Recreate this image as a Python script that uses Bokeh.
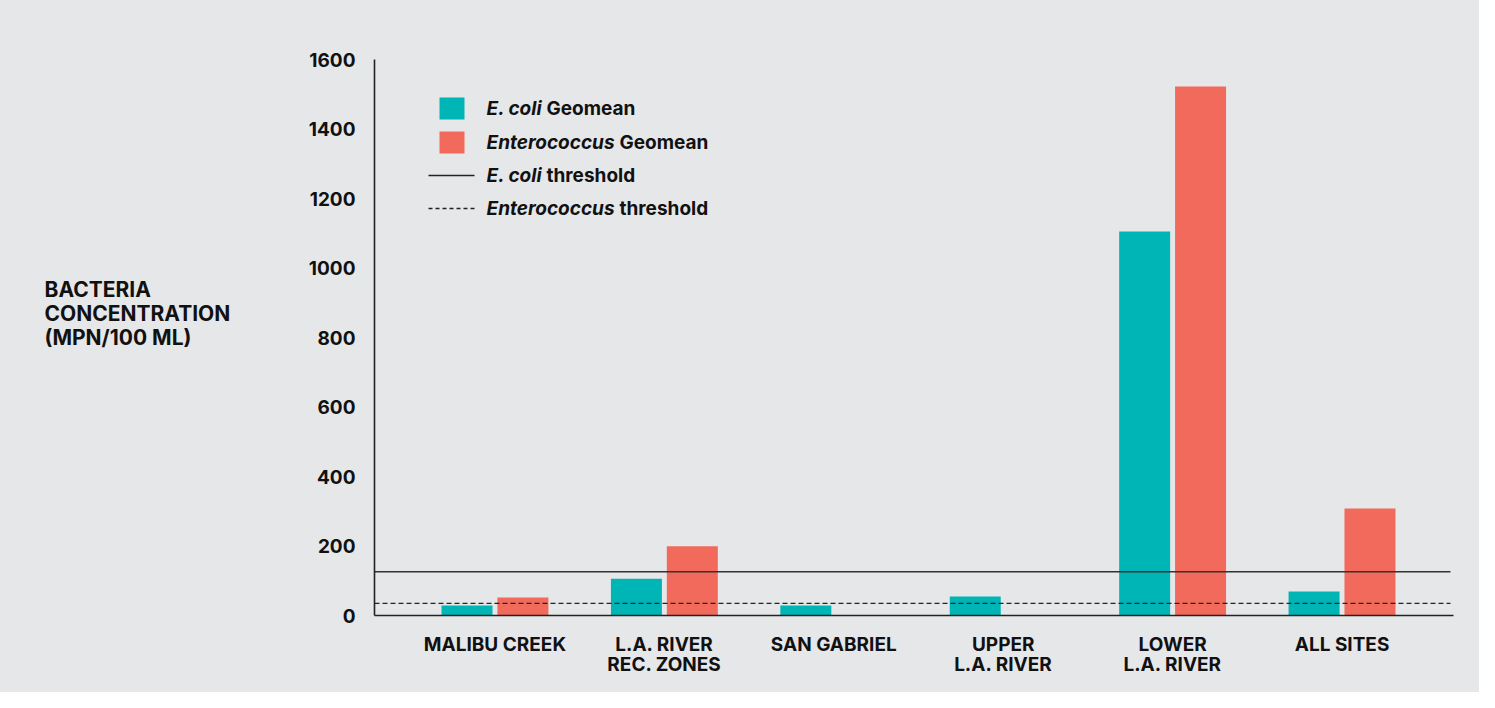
from bokeh.plotting import figure
from bokeh.models import Range1d, FixedTicker, Label, ColumnDataSource
from bokeh.layouts import row
from bokeh.transform import dodge
from bokeh.embed import file_html
from bokeh.resources import INLINE

# ---- data ----
categories = ["MALIBU CREEK", "L.A. RIVER\nREC. ZONES", "SAN GABRIEL",
              "UPPER\nL.A. RIVER", "LOWER\nL.A. RIVER", "ALL SITES"]
ecoli_geomean = [29, 106, 29, 55, 1105, 69]
entero_geomean = [52, 199, float("nan"), float("nan"), 1522, 308]
ecoli_threshold = 126
entero_threshold = 35
y_ticks = [0, 200, 400, 600, 800, 1000, 1200, 1400, 1600]
y_title = "BACTERIA\nCONCENTRATION\n(MPN/100 ML)"

BG = "#e6e7e9"
TEAL = "#00b5b5"
CORAL = "#f26a5b"
INK = "#111111"
FONT = "Inter"
FS = "19px"

W, H = 1479, 692
LW = 250                      # width of the title strip on the left
ML, MR, MT, MB = 374 - LW, 26, 59, 77
X0, X1 = -0.711, 5.658
PYU = (H - MT - MB) / 1600.0

def dy(py):
    return (H - MB - py) / PYU

# ---- left strip holding the horizontal y-axis title ----
t = figure(width=LW, height=H, output_backend="svg", toolbar_location=None,
           x_range=Range1d(0, LW), y_range=Range1d(0, 1600), min_border=0,
           background_fill_color=None, border_fill_color=None, outline_line_color=None)
t.axis.visible = False
t.grid.grid_line_color = None
t.add_layout(Label(x=44, y=dy(313), text=y_title, text_font=FONT,
                   text_font_style="bold", text_font_size="21px", text_color=INK,
                   text_align="left", text_baseline="middle", text_line_height=0.97))

# ---- main chart ----
p = figure(width=W - LW, height=H, output_backend="svg", toolbar_location=None,
           x_range=Range1d(X0, X1), y_range=Range1d(0, 1600),
           min_border_left=ML, min_border_right=MR, min_border_top=MT,
           min_border_bottom=MB, background_fill_color=None, border_fill_color=None,
           outline_line_color=None)
p.grid.grid_line_color = None

xs = list(range(len(categories)))
src = ColumnDataSource(dict(x=xs, ecoli=ecoli_geomean, entero=entero_geomean))
p.vbar(x=dodge("x", -0.165, range=p.x_range), top="ecoli", width=0.301,
       source=src, color=TEAL, line_color=None)
p.vbar(x=dodge("x", 0.165, range=p.x_range), top="entero", width=0.301,
       source=src, color=CORAL, line_color=None)

# thresholds
p.line(x=[X0, X1 - 0.018], y=[ecoli_threshold] * 2, line_color="#333333", line_width=1.6)
p.line(x=[X0, X1 - 0.018], y=[entero_threshold] * 2, line_color="#222222",
       line_width=1.3, line_dash="5 3")

# axes
p.xaxis.ticker = FixedTicker(ticks=xs)
p.xaxis.major_label_overrides = {i: c for i, c in enumerate(categories)}
p.xaxis.major_tick_line_color = None
p.xaxis.minor_tick_line_color = None
p.xaxis.axis_line_color = "#222222"
p.xaxis.axis_line_width = 1.6
p.xaxis.major_label_standoff = 11
p.xaxis.major_label_text_font = FONT
p.xaxis.major_label_text_font_style = "bold"
p.xaxis.major_label_text_font_size = FS
p.xaxis.major_label_text_color = INK
p.xaxis.major_label_text_line_height = 0.87

p.yaxis.ticker = FixedTicker(ticks=y_ticks)
p.yaxis.major_tick_line_color = None
p.yaxis.minor_tick_line_color = None
p.yaxis.axis_line_color = "#222222"
p.yaxis.axis_line_width = 1.6
p.yaxis.major_label_standoff = 13
p.yaxis.major_label_text_font = FONT
p.yaxis.major_label_text_font_style = "bold"
p.yaxis.major_label_text_font_size = FS
p.yaxis.major_label_text_color = INK

# pixel -> data helper for legend decorations (page coordinates)
PXU = (W - LW - ML - MR) / (X1 - X0)
def dx(px):
    return X0 + (px - 374) / PXU

# legend
p.rect(x=[dx(451.5)], y=[dy(108)], width=25, height=22, width_units="screen",
       height_units="screen", color=TEAL, line_color=None)
p.rect(x=[dx(451.5)], y=[dy(142)], width=25, height=22, width_units="screen",
       height_units="screen", color=CORAL, line_color=None)
p.line(x=[dx(428), dx(474)], y=[dy(175)] * 2, line_color="#222222", line_width=1.3)
p.line(x=[dx(428), dx(474)], y=[dy(208)] * 2, line_color="#222222", line_width=1.3,
       line_dash="4 3")

rows = [(108, "E. coli", "Geomean", 546), (142, "Enterococcus", "Geomean", 619),
        (175, "E. coli", "threshold", 546), (208, "Enterococcus", "threshold", 619)]
for py, it, rest, px2 in rows:
    p.add_layout(Label(x=dx(486), y=dy(py), text=it, text_font=FONT,
                       text_font_style="bold italic", text_font_size=FS,
                       text_color=INK, text_baseline="middle"))
    p.add_layout(Label(x=dx(px2), y=dy(py), text=rest, text_font=FONT,
                       text_font_style="bold", text_font_size=FS,
                       text_color=INK, text_baseline="middle"))

layout = row(t, p, spacing=0, styles={"background-color": BG})
open("out.html", "w").write(file_html(layout, INLINE))
